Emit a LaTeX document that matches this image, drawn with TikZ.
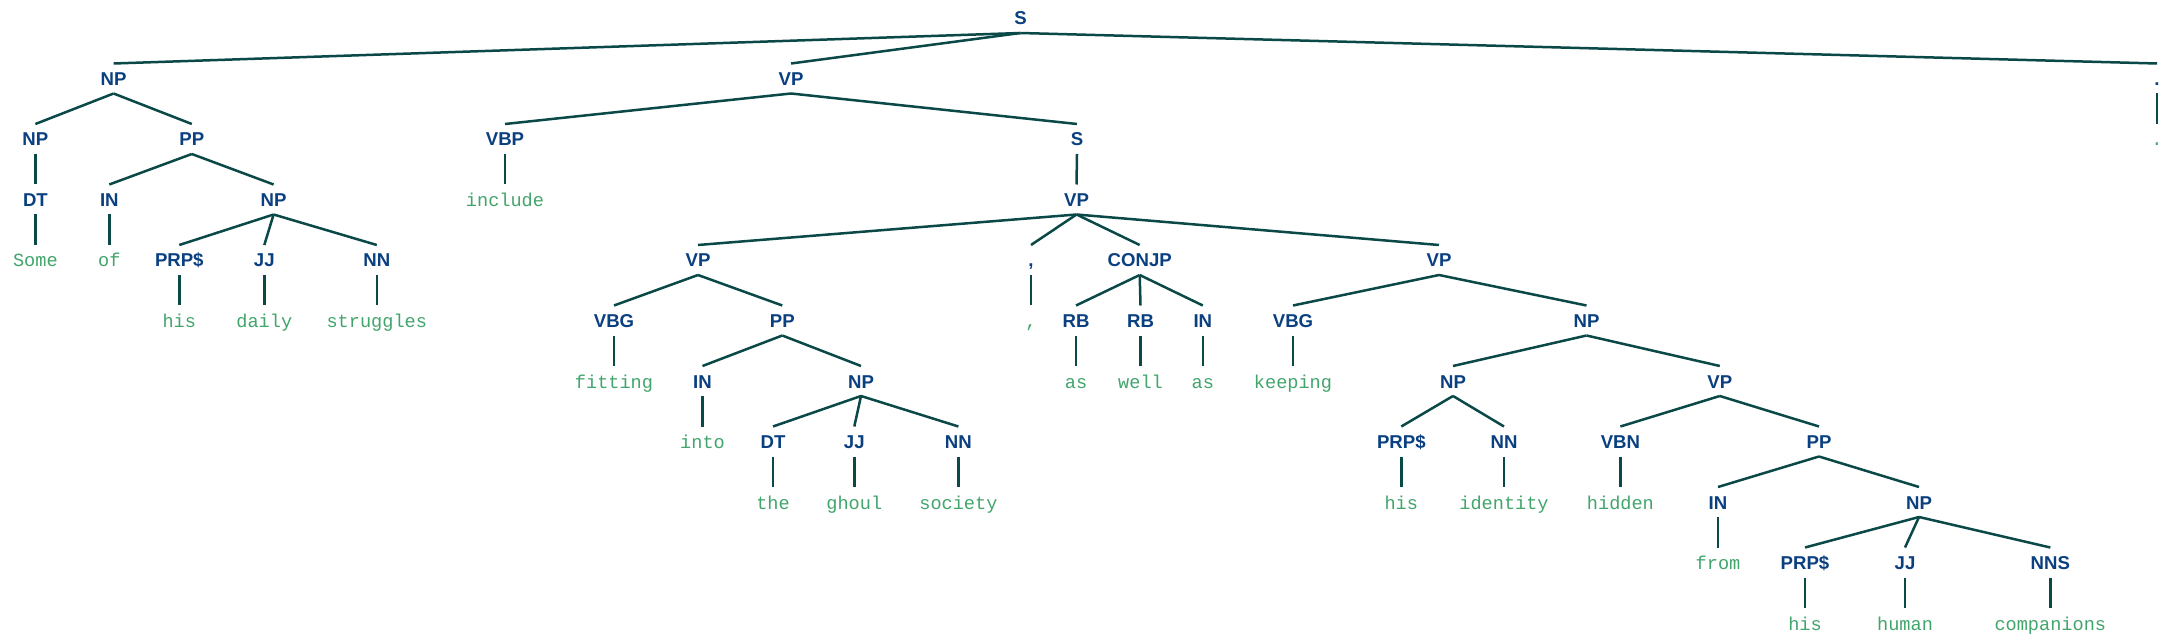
\documentclass[tikz,border=0pt]{standalone}
\usepackage{fontspec}
\newfontfamily\labfont{Liberation Sans}
\newfontfamily\wdfontfam{Liberation Mono}
\definecolor{labblue}{HTML}{0A3F80}
\definecolor{wdgreen}{HTML}{42A56C}
\definecolor{linecol}{HTML}{0B4848}
\tikzset{
  lab/.style={font=\labfont\bfseries\fontsize{18.6}{20}\selectfont, text=labblue, anchor=base, inner sep=0pt},
  wd/.style={font=\wdfontfam\fontsize{18.6}{20}\selectfont, text=wdgreen, anchor=base, inner sep=0pt},
  br/.style={draw=linecol, line width=2.5pt}
}
\newcommand{\cn}[2]{\draw[br] ([yshift=-8pt]#1.base) -- ([yshift=22pt]#2.base);}
\begin{document}
\begin{tikzpicture}[x=1pt,y=1pt]
\fill[white] (0,0) rectangle (2171,-644);
\useasboundingbox (0,0) rectangle (2171,-644);
% level k baseline y = -(18 + 60.5 k + 7)
\def\Ly#1{-(25+60.5*#1)}
% Level 0
\node[lab] (S) at (1020.5,{\Ly{0}}) {S};
% Level 1
\node[lab] (NPa) at (113.6,{\Ly{1}}) {NP};
\node[lab] (VPa) at (791,{\Ly{1}}) {VP};
\node[lab] (dotL) at (2157,{\Ly{1}}) {.};
% Level 2
\node[lab] (NPb) at (35.4,{\Ly{2}}) {NP};
\node[lab] (PPa) at (191.8,{\Ly{2}}) {PP};
\node[lab] (VBP) at (505,{\Ly{2}}) {VBP};
\node[lab] (Sb) at (1077,{\Ly{2}}) {S};
\node[wd] (dotW) at (2157,{\Ly{2}}) {.};
% Level 3
\node[lab] (DTa) at (35.4,{\Ly{3}}) {DT};
\node[lab] (INa) at (109.3,{\Ly{3}}) {IN};
\node[lab] (NPc) at (273.6,{\Ly{3}}) {NP};
\node[wd] (include) at (505,{\Ly{3}}) {include};
\node[lab] (VPb) at (1076.5,{\Ly{3}}) {VP};
% Level 4
\node[wd] (Some) at (35.4,{\Ly{4}}) {Some};
\node[wd] (of) at (109.3,{\Ly{4}}) {of};
\node[lab] (PRPa) at (179.3,{\Ly{4}}) {PRP\$};
\node[lab] (JJa) at (264.3,{\Ly{4}}) {JJ};
\node[lab] (NNa) at (376.8,{\Ly{4}}) {NN};
\node[lab] (VPc) at (698,{\Ly{4}}) {VP};
\node[lab] (comL) at (1031,{\Ly{4}}) {,};
\node[lab] (CONJP) at (1139.7,{\Ly{4}}) {CONJP};
\node[lab] (VPd) at (1439,{\Ly{4}}) {VP};
% Level 5
\node[wd] (hisa) at (179.3,{\Ly{5}}) {his};
\node[wd] (daily) at (264.3,{\Ly{5}}) {daily};
\node[wd] (struggles) at (376.8,{\Ly{5}}) {struggles};
\node[lab] (VBGa) at (614,{\Ly{5}}) {VBG};
\node[lab] (PPb) at (782.3,{\Ly{5}}) {PP};
\node[wd] (comW) at (1031,{\Ly{5}}) {,};
\node[lab] (RBa) at (1076,{\Ly{5}}) {RB};
\node[lab] (RBb) at (1140.5,{\Ly{5}}) {RB};
\node[lab] (INb) at (1202.8,{\Ly{5}}) {IN};
\node[lab] (VBGb) at (1293,{\Ly{5}}) {VBG};
\node[lab] (NPd) at (1586.5,{\Ly{5}}) {NP};
% Level 6
\node[wd] (fitting) at (614,{\Ly{6}}) {fitting};
\node[lab] (INc) at (702.5,{\Ly{6}}) {IN};
\node[lab] (NPe) at (861,{\Ly{6}}) {NP};
\node[wd] (asa) at (1076,{\Ly{6}}) {as};
\node[wd] (well) at (1140.5,{\Ly{6}}) {well};
\node[wd] (asb) at (1202.8,{\Ly{6}}) {as};
\node[wd] (keeping) at (1293,{\Ly{6}}) {keeping};
\node[lab] (NPf) at (1453,{\Ly{6}}) {NP};
\node[lab] (VPe) at (1719.8,{\Ly{6}}) {VP};
% Level 7
\node[wd] (into) at (702.5,{\Ly{7}}) {into};
\node[lab] (DTb) at (773,{\Ly{7}}) {DT};
\node[lab] (JJb) at (854.3,{\Ly{7}}) {JJ};
\node[lab] (NNb) at (958.4,{\Ly{7}}) {NN};
\node[lab] (PRPb) at (1401.3,{\Ly{7}}) {PRP\$};
\node[lab] (NNc) at (1504,{\Ly{7}}) {NN};
\node[lab] (VBN) at (1620.4,{\Ly{7}}) {VBN};
\node[lab] (PPc) at (1819,{\Ly{7}}) {PP};
% Level 8
\node[wd] (the) at (773,{\Ly{8}}) {the};
\node[wd] (ghoul) at (854.3,{\Ly{8}}) {ghoul};
\node[wd] (society) at (958.4,{\Ly{8}}) {society};
\node[wd] (hisb) at (1401.3,{\Ly{8}}) {his};
\node[wd] (identity) at (1504,{\Ly{8}}) {identity};
\node[wd] (hidden) at (1620.4,{\Ly{8}}) {hidden};
\node[lab] (INd) at (1718,{\Ly{8}}) {IN};
\node[lab] (NPg) at (1919,{\Ly{8}}) {NP};
% Level 9
\node[wd] (from) at (1718,{\Ly{9}}) {from};
\node[lab] (PRPc) at (1805,{\Ly{9}}) {PRP\$};
\node[lab] (JJc) at (1905,{\Ly{9}}) {JJ};
\node[lab] (NNS) at (2050.3,{\Ly{9}}) {NNS};
% Level 10
\node[wd] (hisc) at (1805,{\Ly{10}}) {his};
\node[wd] (human) at (1905,{\Ly{10}}) {human};
\node[wd] (companions) at (2050.3,{\Ly{10}}) {companions};
% connectors
\cn{S}{NPa}\cn{S}{VPa}\cn{S}{dotL}
\cn{NPa}{NPb}\cn{NPa}{PPa}
\cn{VPa}{VBP}\cn{VPa}{Sb}
\cn{dotL}{dotW}
\cn{NPb}{DTa}\cn{PPa}{INa}\cn{PPa}{NPc}
\cn{VBP}{include}\cn{Sb}{VPb}
\cn{DTa}{Some}\cn{INa}{of}
\cn{NPc}{PRPa}\cn{NPc}{JJa}\cn{NPc}{NNa}
\cn{VPb}{VPc}\cn{VPb}{comL}\cn{VPb}{CONJP}\cn{VPb}{VPd}
\cn{PRPa}{hisa}\cn{JJa}{daily}\cn{NNa}{struggles}
\cn{VPc}{VBGa}\cn{VPc}{PPb}
\cn{comL}{comW}
\cn{CONJP}{RBa}\cn{CONJP}{RBb}\cn{CONJP}{INb}
\cn{VPd}{VBGb}\cn{VPd}{NPd}
\cn{VBGa}{fitting}\cn{PPb}{INc}\cn{PPb}{NPe}
\cn{RBa}{asa}\cn{RBb}{well}\cn{INb}{asb}
\cn{VBGb}{keeping}\cn{NPd}{NPf}\cn{NPd}{VPe}
\cn{INc}{into}\cn{NPe}{DTb}\cn{NPe}{JJb}\cn{NPe}{NNb}
\cn{NPf}{PRPb}\cn{NPf}{NNc}\cn{VPe}{VBN}\cn{VPe}{PPc}
\cn{DTb}{the}\cn{JJb}{ghoul}\cn{NNb}{society}
\cn{PRPb}{hisb}\cn{NNc}{identity}\cn{VBN}{hidden}
\cn{PPc}{INd}\cn{PPc}{NPg}
\cn{INd}{from}\cn{NPg}{PRPc}\cn{NPg}{JJc}\cn{NPg}{NNS}
\cn{PRPc}{hisc}\cn{JJc}{human}\cn{NNS}{companions}
\end{tikzpicture}
\end{document}
